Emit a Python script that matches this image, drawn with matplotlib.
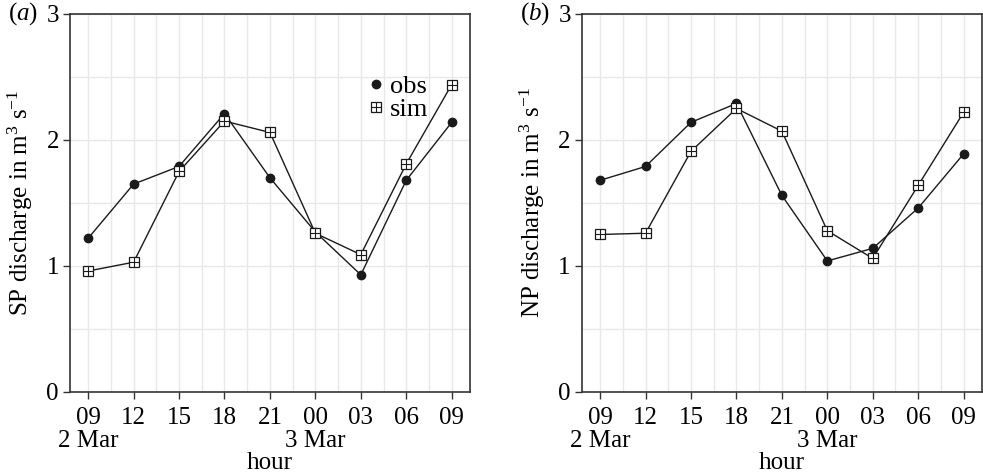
import matplotlib
matplotlib.use("Agg")
import matplotlib.pyplot as plt

plt.rcParams["font.family"] = ["Liberation Serif", "DejaVu Serif"]
plt.rcParams["mathtext.fontset"] = "custom"
plt.rcParams["mathtext.rm"] = "Liberation Serif"
plt.rcParams["mathtext.it"] = "Liberation Serif:italic"

# data
hours = ["09", "12", "15", "18", "21", "00", "03", "06", "09"]
dates = ["2 Mar", "", "", "", "", "3 Mar", "", "", ""]
sp_obs = [1.22, 1.65, 1.79, 2.21, 1.70, 1.27, 0.93, 1.68, 2.14]
sp_sim = [0.96, 1.03, 1.75, 2.15, 2.06, 1.26, 1.09, 1.81, 2.44]
np_obs = [1.68, 1.79, 2.14, 2.29, 1.56, 1.04, 1.14, 1.46, 1.89]
np_sim = [1.25, 1.26, 1.91, 2.25, 2.07, 1.28, 1.06, 1.64, 2.22]

x = list(range(len(hours)))
ticklabels = [h + "\n" + d for h, d in zip(hours, dates)]

fig = plt.figure(figsize=(9.83, 4.76), dpi=100)
ax_a = fig.add_axes([0.0712, 0.1765, 0.4068, 0.7941])
ax_b = fig.add_axes([0.592, 0.1765, 0.4068, 0.7941])

FS = 18
panels = [(ax_a, sp_obs, sp_sim, "SP", "a"),
          (ax_b, np_obs, np_sim, "NP", "b")]

for ax, obs, sim, name, letter in panels:
    ax.set_xlim(-0.4, 8.4)
    ax.set_ylim(0, 3)
    ax.set_xticks(x)
    ax.set_xticks([v * 0.5 for v in range(17)], minor=True)
    ax.set_yticks([0, 1, 2, 3])
    ax.set_yticks([0.5, 1.5, 2.5], minor=True)
    ax.set_xticklabels(ticklabels, fontsize=FS, linespacing=1.05)
    ax.set_yticklabels(["0", "1", "2", "3"], fontsize=FS)
    ax.grid(True, which="both", color="#e8e8e8", lw=1.0, zorder=0)
    ax.set_axisbelow(True)
    ax.tick_params(axis="both", which="major", direction="out", length=5,
                   width=1, color="#333333", pad=3)
    ax.tick_params(axis="x", which="major", pad=6)
    ax.tick_params(axis="both", which="minor", length=0)
    for s in ax.spines.values():
        s.set_color("#333333")
        s.set_linewidth(1.2)

    ax.plot(x, obs, color="#1a1a1a", lw=1, marker="o", ms=6,
            mfc="#1a1a1a", mec="#1a1a1a", zorder=3)
    ax.plot(x, sim, color="#1a1a1a", lw=1, marker="s", ms=7.5,
            mfc="white", mec="#1a1a1a", mew=0.9, zorder=4)
    ax.plot(x, sim, ls="none", marker="+", ms=7.5, mec="#1a1a1a",
            mew=0.8, zorder=5)

    ax.set_xlabel("hour", fontsize=FS, labelpad=0)
    ax.set_ylabel(name + r" discharge in m$^{3}$ s$^{-1}$", fontsize=FS,
                  labelpad=8)
    ax.text(-0.155, 1.0, "(" + r"$\it{" + letter + "}$" + ")",
            transform=ax.transAxes, fontsize=FS, va="center", ha="left")

# legend in panel (a)
h_obs, = ax_a.plot([], [], ls="none", marker="o", ms=6, color="#1a1a1a")
h_sq, = ax_a.plot([], [], ls="none", marker="s", ms=7.5, mfc="white",
                  mec="#1a1a1a", mew=0.9)
h_pl, = ax_a.plot([], [], ls="none", marker="+", ms=7.5, mec="#1a1a1a",
                  mew=0.8)
ax_a.legend([h_obs, (h_sq, h_pl)], ["obs", "sim"], loc="upper right",
            bbox_to_anchor=(0.93, 0.875), frameon=False, fontsize=19,
            handlelength=0.6, handletextpad=0.25, borderpad=0,
            labelspacing=0.0)

fig.savefig("out.png", dpi=100)
